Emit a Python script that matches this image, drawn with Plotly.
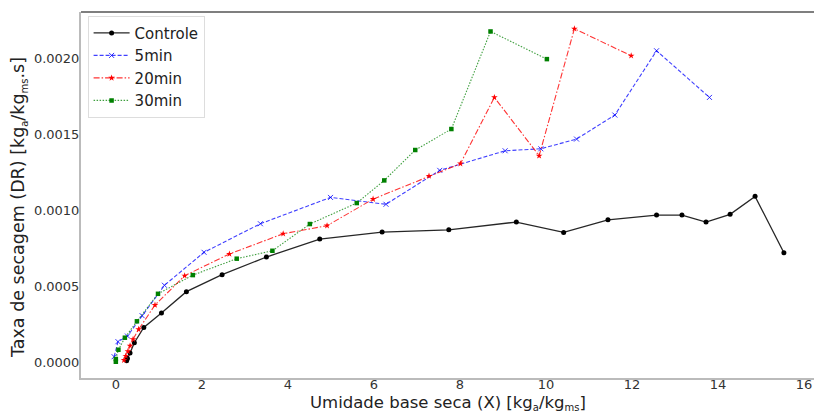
import plotly.graph_objects as go

# Data
ctrl_x = [0.25, 0.27, 0.33, 0.43, 0.65, 1.06, 1.64, 2.47, 3.50, 4.74, 6.19, 7.74, 9.31,
          10.41, 11.44, 12.57, 13.16, 13.72, 14.28, 14.86, 15.53]
ctrl_y = [0.000009, 0.000024, 0.000059, 0.000127, 0.000228, 0.000322, 0.000463, 0.000575,
          0.000691, 0.000809, 0.000855, 0.000870, 0.000921, 0.000853, 0.000936, 0.000967,
          0.000967, 0.000921, 0.000972, 0.001090, 0.000719]

m5_x = [-0.04, 0.05, 0.27, 0.61, 1.13, 2.05, 3.36, 4.99, 6.28, 7.53, 9.05, 9.88, 10.71,
        11.60, 12.57, 13.80]
m5_y = [0.000035, 0.000134, 0.000171, 0.000305, 0.000505, 0.000722, 0.000910, 0.001083,
        0.001038, 0.001261, 0.001390, 0.001403, 0.001467, 0.001625, 0.002048, 0.001741]

m20_x = [0.19, 0.23, 0.28, 0.33, 0.40, 0.53, 0.91, 1.60, 2.64, 3.89, 4.91, 5.98, 7.28,
         8.01, 8.80, 9.84, 10.66, 11.98]
m20_y = [0.000013, 0.000040, 0.000070, 0.000107, 0.000150, 0.000215, 0.000375, 0.000568,
         0.000711, 0.000844, 0.000897, 0.001072, 0.001224, 0.001305, 0.001741, 0.001357,
         0.002193, 0.002015]

m30_x = [0.0, 0.0, 0.06, 0.21, 0.49, 0.98, 1.79, 2.81, 3.64, 4.51, 5.60, 6.24, 6.96, 7.80,
         8.71, 10.02]
m30_y = [0.000002, 0.000020, 0.000081, 0.000160, 0.000268, 0.000449, 0.000572, 0.000680,
         0.000732, 0.000908, 0.001046, 0.001195, 0.001395, 0.001533, 0.002175, 0.001993]

x_ticks = [0, 2, 4, 6, 8, 10, 12, 14, 16]
y_ticks = [0.0, 0.0005, 0.0010, 0.0015, 0.0020]

FONT = "DejaVu Sans"


def sub(s):
    return "<sub><span style='font-size:10px'>%s</span></sub>" % s


x_title = "Umidade base seca (X) [kg" + sub("a") + "/kg" + sub("ms") + "]"
y_title = "Taxa de secagem (DR) [kg" + sub("a") + "/kg" + sub("ms") + ".s]"

fig = go.Figure()
fig.add_trace(go.Scatter(x=ctrl_x, y=ctrl_y, name="Controle", mode="lines+markers",
                         line=dict(color="rgba(0,0,0,0.85)", width=1.3),
                         marker=dict(symbol="circle", size=5, color="black")))
fig.add_trace(go.Scatter(x=m5_x, y=m5_y, name="5min", mode="lines+markers",
                         line=dict(color="rgba(0,0,255,0.75)", width=1.1, dash="4px,2px"),
                         marker=dict(symbol="x-thin", size=5,
                                     line=dict(color="rgba(0,0,255,0.8)", width=1))))
fig.add_trace(go.Scatter(x=m20_x, y=m20_y, name="20min", mode="lines+markers",
                         line=dict(color="rgba(255,0,0,0.8)", width=1.1,
                                   dash="6px,2px,1.5px,2px"),
                         marker=dict(symbol="star", size=5, color="red")))
fig.add_trace(go.Scatter(x=m30_x, y=m30_y, name="30min", mode="lines+markers",
                         line=dict(color="rgba(0,128,0,0.75)", width=1.1, dash="1.5px,1.5px"),
                         marker=dict(symbol="square", size=4.5, color="green")))

fig.update_layout(
    width=814, height=414,
    margin=dict(l=81, r=0, t=12, b=36),
    paper_bgcolor="white", plot_bgcolor="white",
    font=dict(family=FONT, size=13, color="#333"),
    showlegend=True,
    legend=dict(x=0.009, y=0.99, xanchor="left", yanchor="top",
                bgcolor="rgba(255,255,255,0.9)", bordercolor="#dddddd", borderwidth=1,
                font=dict(family=FONT, size=15, color="#222"),
                itemwidth=36, tracegroupgap=0),
    xaxis=dict(range=[-0.81, 16.23], tickvals=x_ticks, ticktext=[str(v) for v in x_ticks],
               showgrid=False, zeroline=False, showline=True, linecolor="#bbbbbb",
               linewidth=2, ticks="", tickfont=dict(size=13, color="#333"),
               ticklabelstandoff=-7, automargin=False),
    yaxis=dict(range=[-0.000105, 0.002303], tickvals=y_ticks,
               ticktext=["%.4f" % v for v in y_ticks],
               showgrid=False, zeroline=False, showline=True, linecolor="#bbbbbb",
               linewidth=2, ticks="", tickfont=dict(size=13, color="#333"),
               ticklabelstandoff=-3, automargin=False),
    annotations=[
        dict(text=x_title, xref="paper", yref="paper", x=0.5, y=0, xanchor="center",
             yanchor="top", yshift=-13, showarrow=False,
             font=dict(family=FONT, size=16.5, color="#222")),
        dict(text=y_title, xref="paper", yref="paper", x=0, y=0.5, xanchor="center",
             yanchor="middle", xshift=-62, yshift=-13, textangle=-90, showarrow=False,
             font=dict(family=FONT, size=17.5, color="#222")),
    ],
    shapes=[dict(type="line", xref="paper", yref="paper", x0=0, x1=1, y0=1, y1=1,
                 line=dict(color="#555555", width=1.5))],
)

fig.write_html("out.html", config={"displayModeBar": False},
               post_script="document.body.style.margin='0';document.body.style.padding='0';")
